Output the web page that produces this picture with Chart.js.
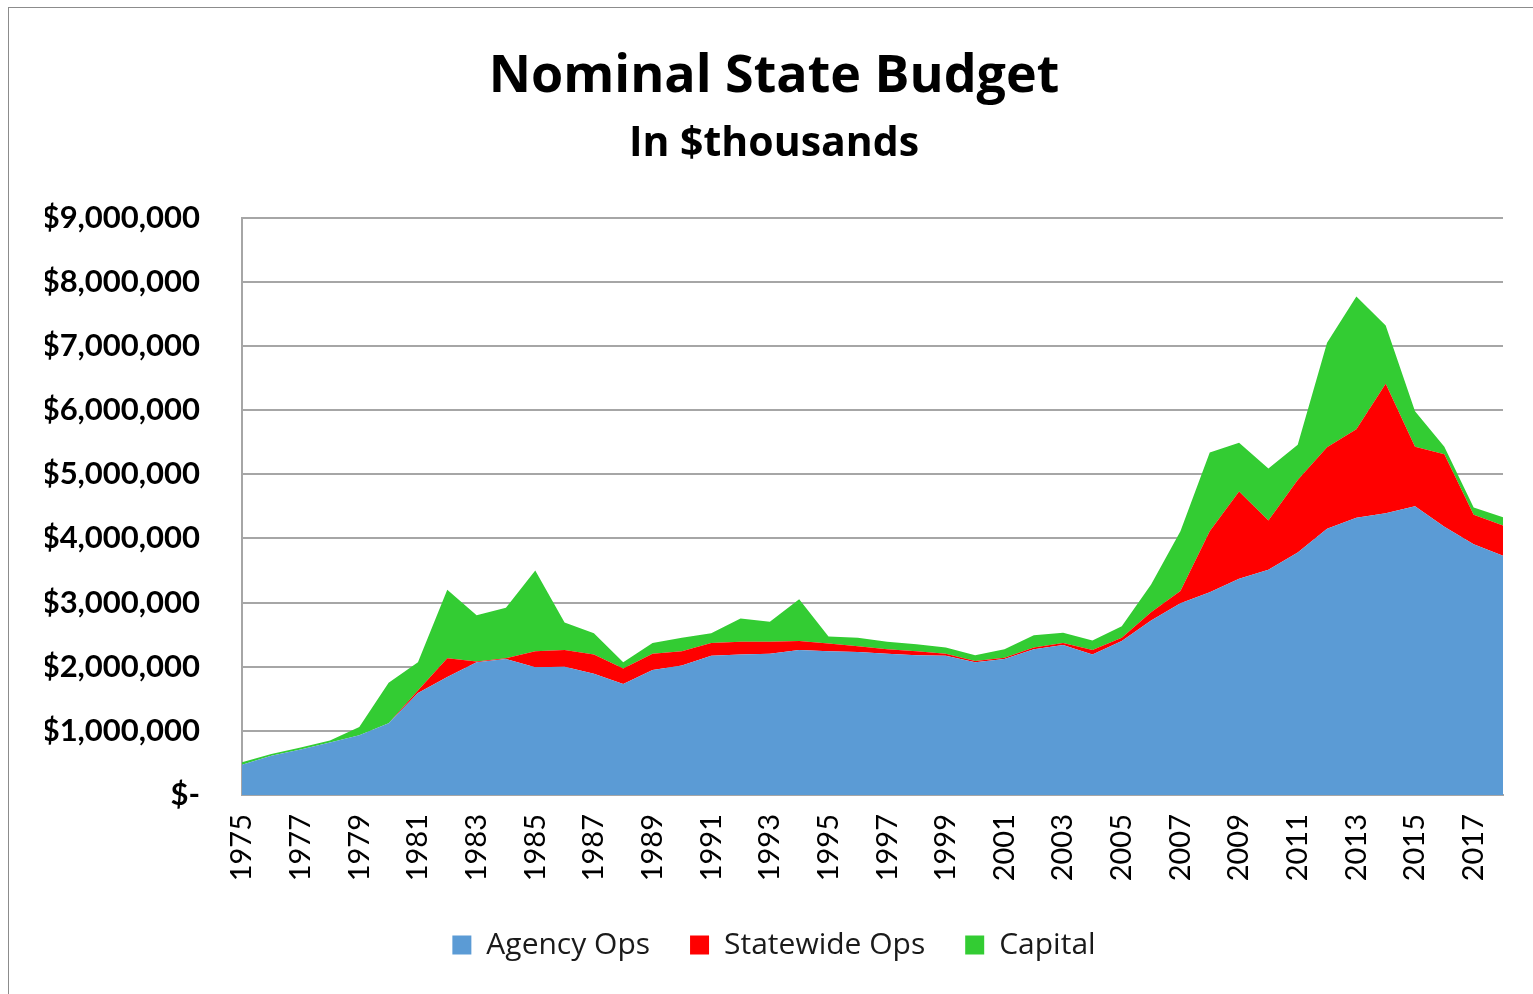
<!DOCTYPE html>
<html><head><meta charset="utf-8">
<script src="https://cdn.jsdelivr.net/npm/chart.js@4/dist/chart.umd.min.js"></script>
<style>
html,body{margin:0;padding:0;background:#fff;}
#wrap{position:absolute;left:0;top:0;width:1533px;height:994px;overflow:hidden;}
#frame{position:absolute;left:8px;top:7px;width:1600px;height:1100px;border-left:1px solid #8c8c8c;border-top:1px solid #8c8c8c;}
canvas{position:absolute;left:0;top:0;}
</style></head><body>
<div id="wrap"><div id="frame"></div><canvas id="c" width="1533" height="994"></canvas></div>
<script>
const years = ['1975','1976','1977','1978','1979','1980','1981','1982','1983','1984','1985','1986','1987','1988','1989','1990','1991','1992','1993','1994','1995','1996','1997','1998','1999','2000','2001','2002','2003','2004','2005','2006','2007','2008','2009','2010','2011','2012','2013','2014','2015','2016','2017','2018'];
const agencyOps = [470000,610000,710000,820000,930000,1120000,1590000,1840000,2070000,2120000,1990000,2000000,1890000,1730000,1950000,2020000,2170000,2190000,2200000,2260000,2240000,2230000,2200000,2180000,2170000,2070000,2120000,2270000,2340000,2190000,2400000,2720000,2990000,3160000,3370000,3510000,3780000,4150000,4320000,4390000,4500000,4180000,3910000,3730000];
const statewideOps = [0,0,0,0,0,0,40000,290000,10000,10000,250000,260000,300000,240000,250000,220000,200000,200000,190000,140000,120000,90000,70000,60000,30000,20000,20000,30000,30000,70000,50000,130000,190000,950000,1360000,770000,1130000,1270000,1380000,2020000,930000,1130000,460000,470000];
const capital = [40000,30000,30000,30000,130000,630000,440000,1070000,720000,790000,1260000,430000,330000,100000,170000,210000,150000,360000,310000,650000,110000,130000,120000,110000,100000,90000,130000,190000,160000,150000,180000,430000,930000,1230000,760000,810000,550000,1630000,2070000,910000,550000,120000,110000,130000];
const seriesNames = ['Agency Ops','Statewide Ops','Capital'];
const seriesColors = ['#5B9BD5','#FF0000','#33CC33'];

const F = 'Lato, "Open Sans", sans-serif';
const FO = '"Open Sans", Lato, sans-serif';
new Chart(document.getElementById('c'), {
  type: 'line',
  data: {
    labels: years,
    datasets: [
      {label: seriesNames[0], data: agencyOps, backgroundColor: seriesColors[0], borderColor: seriesColors[0], fill: 'origin'},
      {label: seriesNames[1], data: statewideOps, backgroundColor: seriesColors[1], borderColor: seriesColors[1], fill: '-1'},
      {label: seriesNames[2], data: capital, backgroundColor: seriesColors[2], borderColor: seriesColors[2], fill: '-1'}
    ]
  },
  options: {
    responsive: false,
    animation: false,
    devicePixelRatio: 1,
    layout: {padding: {left: 45, right: 30, top: 0, bottom: 24}},
    elements: {line: {tension: 0, borderWidth: 0}, point: {radius: 0, hoverRadius: 0}},
    scales: {
      x: {
        offset: false,
        grid: {display: false, drawTicks: false},
        border: {display: true, color: '#a6a6a6', width: 2},
        ticks: {
          autoSkip: false, minRotation: 90, maxRotation: 90, padding: 19,
          color: '#000', font: {family: F, size: 29},
          callback: function(v, i) { return i % 2 === 0 ? years[i] : ''; }
        },
        afterFit: function(s) { s.height = 95; s.paddingRight = 0; s.paddingLeft = 0; }
      },
      y: {
        stacked: true, min: 0, max: 9000000,
        grid: {color: '#a6a6a6', lineWidth: 2, drawTicks: false},
        border: {display: true, color: '#a6a6a6', width: 2},
        ticks: {
          stepSize: 1000000, padding: 42, color: '#000',
          font: {family: F, size: 31, weight: 'bold'},
          callback: function(v) { return v === 0 ? '$-' : '$' + v.toLocaleString('en-US'); }
        },
        afterFit: function(s) { s.width = 197; }
      }
    },
    plugins: {
      title: {display: true, text: 'Nominal State Budget', color: '#000', font: {family: FO, size: 52, weight: 'bold'}, padding: {top: 46, bottom: 0}},
      subtitle: {display: true, text: 'In $thousands', color: '#000', font: {family: FO, size: 41, weight: 'bold'}, padding: {top: 11, bottom: 49}},
      legend: {position: 'bottom', labels: {color: '#1a1a1a', font: {family: FO, size: 30}, boxWidth: 19, boxHeight: 19, padding: 40}},
      tooltip: {enabled: false}
    }
  }
});
</script>
</body></html>
